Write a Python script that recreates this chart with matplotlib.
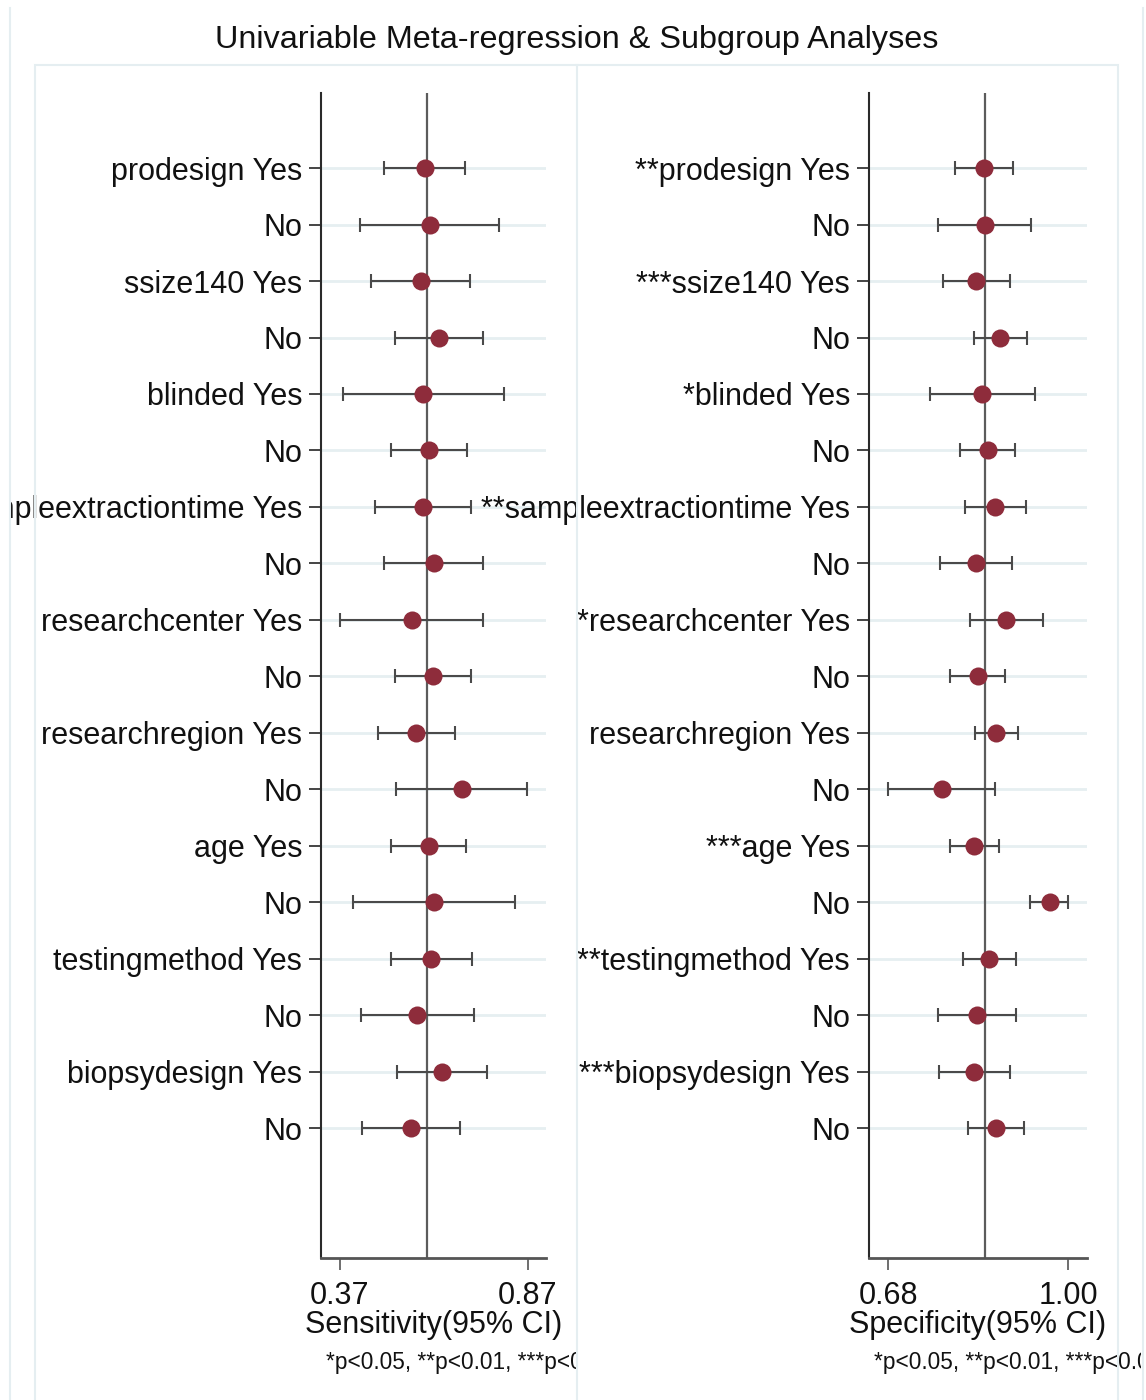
import matplotlib
matplotlib.use("Agg")
import matplotlib.pyplot as plt
from matplotlib.transforms import Bbox, TransformedBbox
from matplotlib.patches import Rectangle
from matplotlib.lines import Line2D
import numpy as np

plt.rcParams['font.family'] = ['Liberation Sans', 'DejaVu Sans']

# ---------------- data ----------------
title = "Univariable Meta-regression & Subgroup Analyses"

sens_labels = ["prodesign Yes", "No", "ssize140 Yes", "No", "blinded Yes", "No",
               "sampleextractiontime Yes", "No", "researchcenter Yes", "No",
               "researchregion Yes", "No", "age Yes", "No",
               "testingmethod Yes", "No", "biopsydesign Yes", "No"]
spec_labels = ["**prodesign Yes", "No", "***ssize140 Yes", "No", "*blinded Yes", "No",
               "**sampleextractiontime Yes", "No", "*researchcenter Yes", "No",
               "researchregion Yes", "No", "***age Yes", "No",
               "**testingmethod Yes", "No", "***biopsydesign Yes", "No"]

sens_est = [0.597, 0.610, 0.586, 0.634, 0.593, 0.608, 0.591, 0.622, 0.562,
            0.618, 0.574, 0.695, 0.608, 0.621, 0.613, 0.577, 0.643, 0.560]
sens_lo = [0.487, 0.425, 0.454, 0.518, 0.378, 0.507, 0.464, 0.489, 0.370,
           0.516, 0.472, 0.521, 0.507, 0.406, 0.507, 0.427, 0.523, 0.429]
sens_hi = [0.704, 0.795, 0.717, 0.750, 0.808, 0.709, 0.719, 0.752, 0.752,
           0.720, 0.677, 0.869, 0.706, 0.837, 0.723, 0.727, 0.763, 0.691]

spec_est = [0.850, 0.852, 0.836, 0.879, 0.847, 0.857, 0.869, 0.836, 0.890,
            0.839, 0.872, 0.775, 0.833, 0.967, 0.859, 0.837, 0.833, 0.871]
spec_lo = [0.799, 0.769, 0.778, 0.833, 0.755, 0.808, 0.816, 0.772, 0.826,
           0.789, 0.834, 0.680, 0.790, 0.931, 0.813, 0.768, 0.770, 0.821]
spec_hi = [0.902, 0.934, 0.896, 0.927, 0.940, 0.905, 0.924, 0.899, 0.954,
           0.888, 0.911, 0.870, 0.876, 1.000, 0.907, 0.907, 0.896, 0.921]

pooled_sens = 0.602
pooled_spec = 0.852

sens_ticks = [0.37, 0.87]
sens_ticklabels = ["0.37", "0.87"]
spec_ticks = [0.68, 1.00]
spec_ticklabels = ["0.68", "1.00"]
sens_xlim = (0.3206, 0.9186)
spec_xlim = (0.6458, 1.033)

sens_xlabel = "Sensitivity(95% CI)"
spec_xlabel = "Specificity(95% CI)"
footnote = "*p<0.05, **p<0.01, ***p<0.001"

# ---------------- figure ----------------
W, H = 1146, 1400
fig = plt.figure(figsize=(W / 100, H / 100), dpi=100)
fig.patch.set_facecolor("white")

def fx(px):
    return px / W

def fy(py):
    return 1 - py / H

# faint frame lines (graph regions)
frame_col = "#E5EEF1"
fig.add_artist(Line2D([fx(10), fx(10)], [0, fy(8)], color=frame_col, lw=1.5))
fig.add_artist(Line2D([fx(1143), fx(1143)], [0, fy(8)], color=frame_col, lw=1.5))
fig.add_artist(Rectangle((fx(35), -0.01), fx(1118) - fx(35), fy(65) + 0.01,
                         fill=False, ec=frame_col, lw=1.5))
fig.add_artist(Line2D([fx(577), fx(577)], [0, fy(65)], color=frame_col, lw=1.5))

fig.text(0.503, fy(40), title, ha="center", va="center", fontsize=23.3, color="#111111")

n = len(sens_labels)
ypos = np.arange(1, n + 1)

point_col = "#8E2C3B"
err_col = "#4a4a4a"
grid_col = "#E6EFF1"
FS = 22

def panel(left_px, right_px, est, lo, hi, labels, pooled, xlim, ticks, ticklabels,
          xlabel, note_clip_px, label_clip_px):
    ax = fig.add_axes([fx(left_px), fy(1258), fx(right_px) - fx(left_px), (1258 - 93) / H])
    est = np.asarray(est)
    lo = np.asarray(lo)
    hi = np.asarray(hi)
    ax.set_xlim(*xlim)
    ax.set_ylim(20.30, -0.33)
    ax.set_yticks(ypos)
    ax.set_yticklabels(labels, fontsize=FS, color="#111111")
    ax.yaxis.grid(True, color=grid_col, lw=2.0)
    ax.xaxis.grid(False)
    ax.set_axisbelow(True)
    ax.axvline(pooled, color="#5c5c5c", lw=1.6, zorder=1)
    ax.errorbar(est, ypos, xerr=[est - lo, hi - est], fmt="none", ecolor=err_col,
                elinewidth=1.5, capsize=4.7, capthick=1.5, zorder=2)
    ax.plot(est, ypos, "o", ms=13, color=point_col, mec="none", zorder=3)
    ax.set_xticks(ticks)
    ax.set_xticklabels(ticklabels, fontsize=FS, color="#111111")
    for s in ["top", "right"]:
        ax.spines[s].set_visible(False)
    ax.spines["left"].set_color("#2a2a2a")
    ax.spines["left"].set_linewidth(1.5)
    ax.spines["bottom"].set_color("#555555")
    ax.spines["bottom"].set_linewidth(2.0)
    ax.tick_params(axis="y", length=8.6, width=1.4, color="#444444", pad=5)
    ax.tick_params(axis="x", length=8.6, width=1.2, color="#555555", pad=8)
    ax.set_xlabel(xlabel, fontsize=FS, color="#111111", labelpad=-1)
    ax.set_facecolor("none")
    if label_clip_px is not None:
        cb = TransformedBbox(Bbox([[fx(label_clip_px), 0], [1, 1]]), fig.transFigure)
        for t in ax.get_yticklabels():
            t.set_clip_on(True)
            t.set_clip_box(cb)
    nb = TransformedBbox(Bbox([[0, 0], [fx(note_clip_px), 1]]), fig.transFigure)
    fig.text(fx(left_px + 5), fy(1369), footnote, ha="left", va="baseline",
             fontsize=16.3, color="#111111", clip_on=True, clip_box=nb)
    return ax

panel(321, 546, sens_est, sens_lo, sens_hi, sens_labels, pooled_sens, sens_xlim,
      sens_ticks, sens_ticklabels, sens_xlabel, 576, 10)
panel(869, 1087, spec_est, spec_lo, spec_hi, spec_labels, pooled_spec, spec_xlim,
      spec_ticks, spec_ticklabels, spec_xlabel, 1141, None)

fig.savefig("out.png", dpi=100, facecolor="white")
